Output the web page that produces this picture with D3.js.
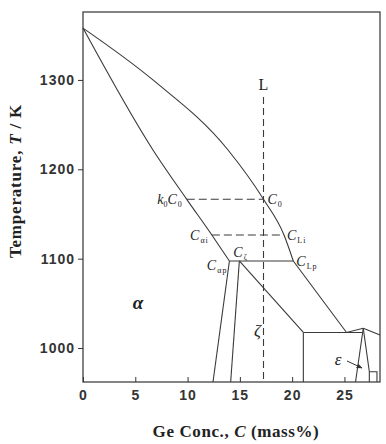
<!DOCTYPE html>
<html>
<head>
<meta charset="utf-8">
<script src="https://cdn.jsdelivr.net/npm/d3@7"></script>
<style>
  body { margin: 0; background: #fff; }
  .tick text { font-family: "Liberation Sans", Arial, sans-serif; font-weight: bold; font-size: 14px; letter-spacing: 1px; fill: #333; }
  .tick line { stroke: #333; }
  .lbl { font-family: "Liberation Serif", "Times New Roman", serif; fill: #222; }
</style>
</head>
<body>
<div id="chart"></div>
<script>
// tick values
const xTicks = [0, 5, 10, 15, 20, 25];
const yTicks = [1000, 1100, 1200, 1300];

// phase boundaries, [Ge mass%, T (K)]
const liquidus = [[0, 1358], [6.69, 1300], [13.87, 1221.6], [17.26, 1166.4], [19.22, 1126.5], [20.11, 1097.4]];
const solidus = [[0, 1358], [6.69, 1221.6], [9.92, 1166.4], [12.32, 1126.5], [14.0, 1097.4]];
const liquidusLow = [[20.11, 1097.4], [25.2, 1017.4], [26.8, 1022.1]];
const peritectic = [[14.0, 1097.4], [20.11, 1097.4]];
const alphaSolvus = [[14.0, 1097.4], [12.43, 962]];
const zetaLeft = [[14.95, 1097.4], [14.12, 962]];
const zetaRight = [[14.95, 1097.4], [21.07, 1017.4]];
const eutectic = [[21.07, 1017.4], [26.75, 1017.4]];
const zetaEdge = [[21.07, 1017.4], [21.07, 962]];
const epsLeft = [[26.8, 1022.1], [26.06, 962]];
const epsRight = [[26.8, 1022.1], [27.38, 973.5], [27.38, 962]];
const epsBox = [[27.38, 973.5], [28.11, 973.5], [28.11, 962]];
const epsTop = [[26.8, 1022.1], [28.4, 1014.6]];

// constructions for alloy C0
const c0 = 17.26;
const dashV = [[c0, 1281], [c0, 962]];
const dashK0 = [[9.92, 1166.4], [17.26, 1166.4]];
const dashAi = [[12.32, 1126.5], [19.22, 1126.5]];

const width = 386, height = 444;

let svg = d3.select("#chart").append("svg")
    .attr("width", width)
    .attr("height", height);

let x = d3.scaleLinear().domain([0, 28.4]).range([83, 380]);
let y = d3.scaleLinear().domain([962, 1376]).range([382, 12]);

let line = d3.line().x(d => x(d[0])).y(d => y(d[1]));
let smooth = d3.line().x(d => x(d[0])).y(d => y(d[1])).curve(d3.curveMonotoneX);

// frame
svg.append("rect")
    .attr("x", x(0)).attr("y", y(1376))
    .attr("width", x(28.4) - x(0)).attr("height", y(962) - y(1376))
    .attr("fill", "none").attr("stroke", "#333").attr("stroke-width", 1.2);

// axes
svg.append("g")
    .attr("transform", `translate(0, ${y(962)})`)
    .call(d3.axisBottom(x).tickValues(xTicks).tickSize(-5).tickPadding(8).tickFormat(d3.format("d")))
    .call(g => g.select(".domain").remove());

svg.append("g")
    .attr("transform", `translate(${x(0)}, 0)`)
    .call(d3.axisLeft(y).tickValues(yTicks).tickSize(5).tickPadding(3).tickFormat(d3.format("d")))
    .call(g => g.select(".domain").remove());

let g = svg.append("g").attr("fill", "none").attr("stroke", "#3a3a3a").attr("stroke-width", 1.1);

g.append("path").attr("d", smooth(liquidus));
g.append("path").attr("d", smooth(solidus));
[liquidusLow, peritectic, alphaSolvus, zetaLeft, zetaRight, eutectic, zetaEdge, epsLeft, epsRight, epsBox, epsTop]
    .forEach(p => g.append("path").attr("d", line(p)));

g.append("path").attr("d", line(dashV)).attr("stroke-dasharray", "7,4");
g.append("path").attr("d", line(dashK0)).attr("stroke-dasharray", "8,4");
g.append("path").attr("d", line(dashAi)).attr("stroke-dasharray", "8,4");

// labels with subscripts
function subLabel(px, py, anchor, main, sub, pre, preSub) {
    let t = svg.append("text").attr("class", "lbl")
        .attr("x", px).attr("y", py)
        .attr("text-anchor", anchor)
        .style("font-size", "14px");
    if (pre) {
        t.append("tspan").style("font-style", "italic").text(pre);
        t.append("tspan").style("font-size", "8px").attr("dy", 3).text(preSub);
        t.append("tspan").style("font-style", "italic").attr("dy", -3).text(main);
    } else {
        t.append("tspan").style("font-style", "italic").text(main);
    }
    t.append("tspan").style("font-size", "8px").attr("dy", 3).attr("dx", 1).style("letter-spacing", "1px").text(sub);
    return t;
}

subLabel(x(9.92) - 4, y(1166.4) + 5, "end", "C", "0", "k", "0");
subLabel(x(c0) + 4, y(1166.4) + 5, "start", "C", "0");
subLabel(x(12.32) - 3, y(1126.5) + 5, "end", "C", "αi");
subLabel(x(19.22) + 3, y(1126.5) + 5, "start", "C", "Li");
subLabel(x(14.95) - 6, y(1097.4) - 4, "start", "C", "ζ");
subLabel(x(14.0) - 2, y(1097.4) + 9, "end", "C", "αp");
subLabel(x(20.11) + 3, y(1097.4) + 5, "start", "C", "Lp");

svg.append("text").attr("class", "lbl")
    .attr("x", x(c0)).attr("y", y(1281) - 7)
    .attr("text-anchor", "middle").style("font-size", "16px")
    .text("L");

svg.append("text").attr("class", "lbl")
    .attr("x", 138).attr("y", 309)
    .attr("text-anchor", "middle").style("font-size", "19px")
    .style("font-style", "italic").style("font-weight", "bold")
    .text("α");

svg.append("text").attr("class", "lbl")
    .attr("x", x(c0) - 6).attr("y", 336)
    .attr("text-anchor", "middle").style("font-size", "17px").style("font-style", "italic")
    .text("ζ");

svg.append("text").attr("class", "lbl")
    .attr("x", 338).attr("y", 365)
    .attr("text-anchor", "middle").style("font-size", "17px").style("font-style", "italic")
    .text("ε");

// arrow to epsilon field
svg.append("defs").append("marker")
    .attr("id", "arr").attr("viewBox", "0 0 10 10").attr("refX", 9).attr("refY", 5)
    .attr("markerWidth", 6).attr("markerHeight", 6).attr("orient", "auto")
    .append("path").attr("d", "M0,1 L10,5 L0,9 z").attr("fill", "#333");
svg.append("line")
    .attr("x1", 347).attr("y1", 361).attr("x2", 362).attr("y2", 368)
    .attr("stroke", "#333").attr("stroke-width", 1)
    .attr("marker-end", "url(#arr)");

// axis titles
let xt = svg.append("text").attr("class", "lbl")
    .attr("x", 236).attr("y", 437)
    .attr("text-anchor", "middle").style("font-size", "17px").style("font-weight", "bold")
    .style("letter-spacing", "0.6px");
xt.append("tspan").text("Ge Conc., ");
xt.append("tspan").style("font-style", "italic").text("C");
xt.append("tspan").text(" (mass%)");

let yt = svg.append("text").attr("class", "lbl")
    .attr("transform", "translate(21, 181) rotate(-90)")
    .attr("text-anchor", "middle").style("font-size", "17px").style("font-weight", "bold")
    .style("letter-spacing", "0.8px");
yt.append("tspan").text("Temperature, ");
yt.append("tspan").style("font-style", "italic").text("T");
yt.append("tspan").text(" / K");
</script>
</body>
</html>
